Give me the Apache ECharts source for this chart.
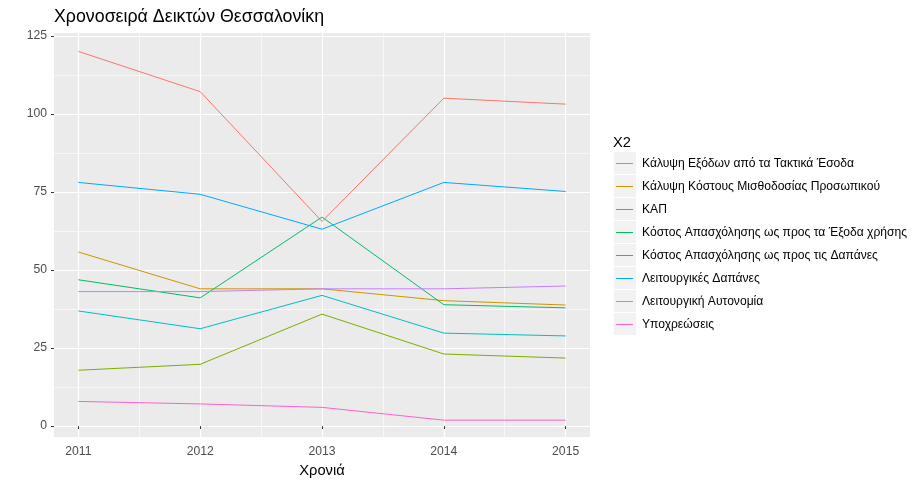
<!DOCTYPE html>
<html>
<head>
<meta charset="utf-8">
<script src="https://cdn.jsdelivr.net/npm/echarts@6/dist/echarts.min.js"></script>
<style>html,body{margin:0;padding:0;background:#fff;}#c{width:918px;height:484px;}</style>
</head>
<body>
<div id="c"></div>
<script>
const years = [2011, 2012, 2013, 2014, 2015];
const yTicks = [0, 25, 50, 75, 100, 125];
const yMinor = [12.5, 37.5, 62.5, 87.5, 112.5];
const xMinor = [2011.5, 2012.5, 2013.5, 2014.5];
const names = [
  'Κάλυψη Εξόδων από τα Τακτικά Έσοδα',
  'Κάλυψη Κόστους Μισθοδοσίας Προσωπικού',
  'ΚΑΠ',
  'Κόστος Απασχόλησης ως προς τα Έξοδα χρήσης',
  'Κόστος Απασχόλησης ως προς τις Δαπάνες',
  'Λειτουργικές Δαπάνες',
  'Λειτουργική Αυτονομία',
  'Υποχρεώσεις'
];
const colors = ['#F8766D', '#CD9600', '#7CAE00', '#00BE67', '#00BFC4', '#00A9FF', '#C77CFF', '#FF61CC'];
const kalypsiExodon = [120.1, 107.2, 65.6, 105.1, 103.2];
const kalypsiMisthodosias = [55.8, 44.0, 44.0, 40.2, 38.8];
const kap = [17.9, 19.8, 35.9, 23.1, 21.8];
const kostosExoda = [46.9, 41.1, 67.0, 38.9, 37.9];
const kostosDapanes = [36.9, 31.2, 41.9, 29.8, 28.9];
const leitourgikesDapanes = [78.1, 74.3, 63.1, 78.1, 75.2];
const autonomia = [43.1, 43.1, 44.0, 44.0, 44.9];
const ypoxreoseis = [7.9, 7.1, 6.0, 1.9, 1.9];
const allValues = [kalypsiExodon, kalypsiMisthodosias, kap, kostosExoda, kostosDapanes, leitourgikesDapanes, autonomia, ypoxreoseis];

const FONT = '"Liberation Sans", Arial, sans-serif';
const chart = echarts.init(document.getElementById('c'), null, {renderer: 'canvas'});

const legendTop = 152, rowH = 23;
const keyBoxes = names.map((n, i) => ({
  type: 'rect', left: 614, top: legendTop + rowH * i, z: -1,
  shape: {width: 22, height: 22}, style: {fill: '#F2F2F2'}
}));

chart.setOption({
  animation: false,
  backgroundColor: '#ffffff',
  title: {
    text: 'Χρονοσειρά Δεικτών Θεσσαλονίκη', left: 54, top: 8, padding: 0,
    textStyle: {fontFamily: FONT, fontSize: 17.8, fontWeight: 'normal', color: '#000'}
  },
  grid: {left: 54, right: 328, top: 33, bottom: 47, show: true, backgroundColor: '#EBEBEB', borderWidth: 0},
  graphic: keyBoxes.concat([{
    type: 'text', left: 613, top: 135,
    style: {text: 'X2', font: '14.7px ' + FONT, fill: '#000'}
  }]),
  legend: {
    orient: 'vertical', left: 616, top: legendTop, padding: 0, itemGap: 0,
    itemWidth: 17, itemHeight: 1, icon: 'rect',
    itemStyle: {borderWidth: 0},
    textStyle: {fontFamily: FONT, fontSize: 12.1, color: '#000', lineHeight: rowH, padding: [0, 0, 0, 4]},
    data: names, selectedMode: false
  },
  xAxis: [
    {
      type: 'value', min: 2010.8, max: 2015.2,
      axisLine: {show: false}, axisLabel: {show: false},
      axisTick: {show: false, customValues: xMinor},
      splitLine: {show: true, lineStyle: {color: '#ffffff', width: 0.6}}
    },
    {
      type: 'value', min: 2010.8, max: 2015.2, position: 'bottom',
      name: 'Χρονιά', nameLocation: 'middle', nameGap: 26,
      nameTextStyle: {fontFamily: FONT, fontSize: 14.7, color: '#000'},
      axisLine: {show: false},
      axisTick: {show: true, length: 3, customValues: years, lineStyle: {color: '#333333', width: 1}},
      axisLabel: {customValues: years, formatter: v => String(v), color: '#4D4D4D', fontFamily: FONT, fontSize: 12.2, margin: 9},
      splitLine: {show: true, lineStyle: {color: '#ffffff', width: 1.2}}
    }
  ],
  yAxis: [
    {
      type: 'value', min: -3.5, max: 126,
      axisLine: {show: false}, axisLabel: {show: false},
      axisTick: {show: false, customValues: yMinor},
      splitLine: {show: true, lineStyle: {color: '#ffffff', width: 0.6}}
    },
    {
      type: 'value', min: -3.5, max: 126, position: 'left',
      axisLine: {show: false},
      axisTick: {show: true, length: 3, customValues: yTicks, lineStyle: {color: '#333333', width: 1}},
      axisLabel: {customValues: yTicks, color: '#4D4D4D', fontFamily: FONT, fontSize: 12.2, margin: 7},
      splitLine: {show: true, lineStyle: {color: '#ffffff', width: 1.2}}
    }
  ],
  series: names.map((n, i) => ({
    name: n, type: 'line', xAxisIndex: 1, yAxisIndex: 1,
    data: years.map((y, j) => [y, allValues[i][j]]),
    symbol: 'none', showSymbol: false, color: colors[i],
    lineStyle: {width: 1, color: colors[i]},
    emphasis: {disabled: true}, silent: true
  }))
});
</script>
</body>
</html>
